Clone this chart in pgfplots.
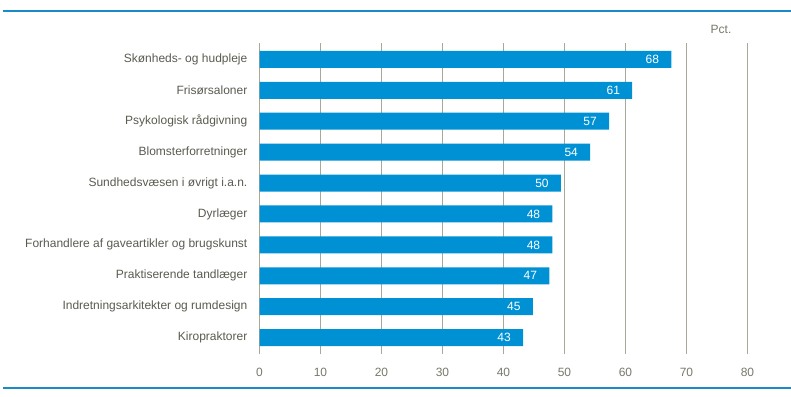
\documentclass[border=0pt]{standalone}
\usepackage{fontspec}
\setmainfont{Liberation Sans}
\usepackage{pgfplots}
\pgfplotsset{compat=1.18}
\definecolor{barblue}{HTML}{0091D4}
\definecolor{lineblue}{HTML}{1B8BC8}
\definecolor{gridc}{HTML}{A8A899}
\definecolor{labc}{HTML}{5A5A50}
\definecolor{tickc}{HTML}{77776B}
\begin{document}
\fontsize{12}{14}\selectfont
\begin{tikzpicture}[x=1pt,y=1pt]
\path[use as bounding box] (0,0) rectangle (791,396);
\draw[lineblue, line width=1.2pt] (3,385) -- (791,385);
\draw[lineblue, line width=1.2pt] (3,8) -- (791,8);
\node[tickc] at (721,367) {Pct.};
\begin{axis}[
  at={(259.5pt,42pt)}, anchor=south west,
  scale only axis, width=488pt, height=311pt,
  xmin=0, xmax=80, ymin=-0.53, ymax=9.53,
  y dir=reverse,
  xbar, bar width=17pt,
  xtick={0,10,...,80},
  ytick={0,...,9},
  yticklabels={Skønheds- og hudpleje, Frisørsaloner, Psykologisk rådgivning, Blomsterforretninger, Sundhedsvæsen i øvrigt i.a.n., Dyrlæger, Forhandlere af gaveartikler og brugskunst, Praktiserende tandlæger, Indretningsarkitekter og rumdesign, Kiropraktorer},
  axis line style={draw=none},
  major tick length=0pt,
  xmajorgrids,
  grid style={gridc, line width=0.8pt},
  /pgf/number format/assume math mode=true,
  xticklabel style={tickc, font=\fontsize{12}{14}\selectfont, yshift=-10pt},
  yticklabel style={labc, font=\fontsize{12}{14}\selectfont, xshift=-8pt},
  nodes near coords,
  point meta=explicit symbolic,
  every node near coord/.append style={white, anchor=east, inner sep=0pt, xshift=-12pt, font=\fontsize{12}{14}\selectfont},
]
\addplot[fill=barblue, draw=none] table[x=x, y=y, meta=lab] {
x y lab
67.5 0 68
61.1 1 61
57.3 2 57
54.2 3 54
49.4 4 50
48.0 5 48
48.0 6 48
47.5 7 47
44.8 8 45
43.2 9 43
};
\end{axis}
\end{tikzpicture}
\end{document}
